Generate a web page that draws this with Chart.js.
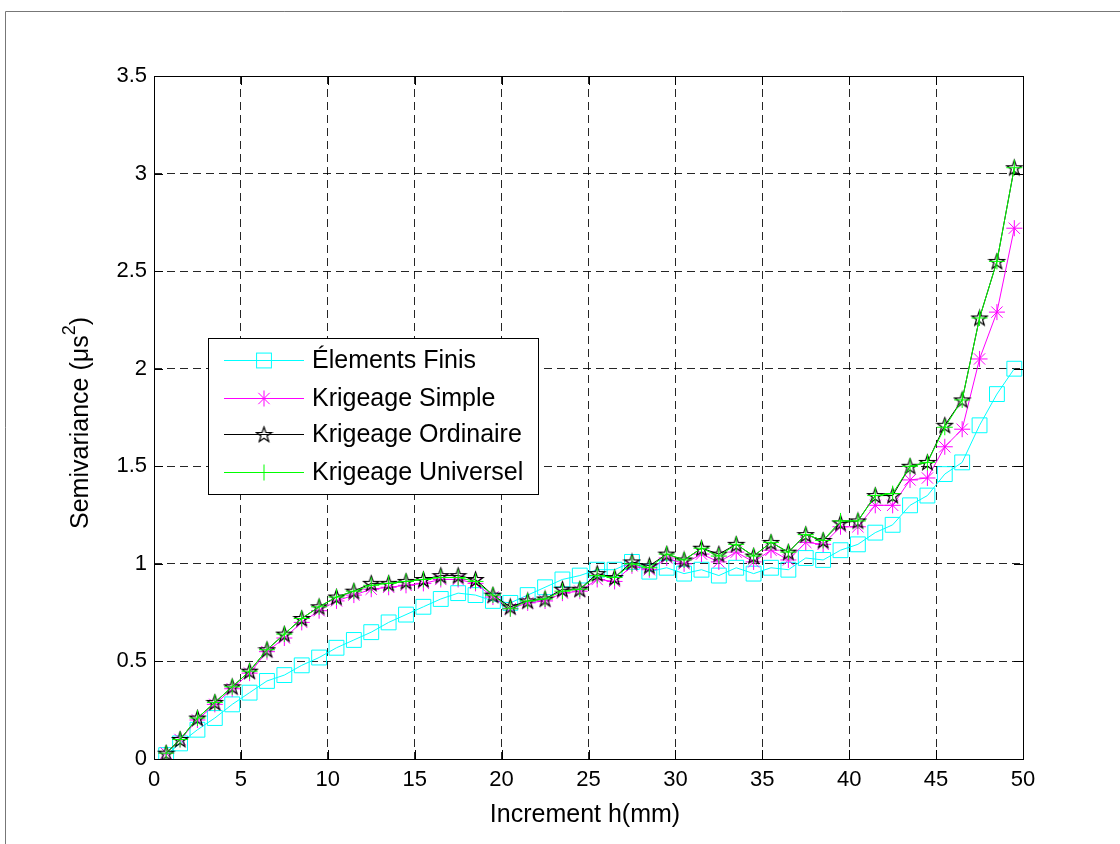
<!DOCTYPE html>
<html lang="fr">
<head>
<meta charset="UTF-8">
<title>Semivariance</title>
<script src="https://cdn.jsdelivr.net/npm/chart.js"></script>
<style>
    body { margin: 0; background: #fff; }
    #wrap { width: 1120px; height: 844px; }
</style>
</head>
<body>
<div id="wrap"><canvas id="semiChart" width="1120" height="844"></canvas></div>
<script>
// increments h (mm)
const hValues = [0.7, 1.5, 2.5, 3.5, 4.5, 5.5, 6.5, 7.5, 8.5, 9.5,
    10.5, 11.5, 12.5, 13.5, 14.5, 15.5, 16.5, 17.5, 18.5, 19.5,
    20.5, 21.5, 22.5, 23.5, 24.5, 25.5, 26.5, 27.5, 28.5, 29.5,
    30.5, 31.5, 32.5, 33.5, 34.5, 35.5, 36.5, 37.5, 38.5, 39.5,
    40.5, 41.5, 42.5, 43.5, 44.5, 45.5, 46.5, 47.5, 48.5, 49.5];

const elementsFinis = [0.02, 0.08, 0.15, 0.21, 0.28, 0.34, 0.40, 0.43, 0.48, 0.52,
    0.57, 0.61, 0.65, 0.70, 0.74, 0.78, 0.82, 0.85, 0.84, 0.81,
    0.80, 0.84, 0.88, 0.92, 0.94, 0.97, 0.97, 1.01, 0.96, 0.98,
    0.95, 0.97, 0.94, 0.98, 0.95, 0.98, 0.97, 1.03, 1.02, 1.07,
    1.10, 1.16, 1.20, 1.30, 1.35, 1.46, 1.52, 1.71, 1.87, 2.00];

const krigeageSimple = [0.03, 0.10, 0.20, 0.28, 0.36, 0.44, 0.55, 0.62, 0.70, 0.76,
    0.81, 0.84, 0.87, 0.88, 0.89, 0.90, 0.92, 0.92, 0.90, 0.83,
    0.77, 0.80, 0.81, 0.85, 0.86, 0.92, 0.91, 0.99, 0.97, 1.03,
    1.00, 1.05, 1.01, 1.06, 1.01, 1.07, 1.02, 1.11, 1.10, 1.19,
    1.19, 1.30, 1.30, 1.43, 1.44, 1.60, 1.69, 2.05, 2.29, 2.72];

const krigeageOrdinaire = [0.03, 0.10, 0.21, 0.29, 0.37, 0.45, 0.56, 0.64, 0.72, 0.78,
    0.83, 0.86, 0.90, 0.90, 0.91, 0.92, 0.94, 0.94, 0.92, 0.84,
    0.78, 0.81, 0.82, 0.87, 0.87, 0.95, 0.93, 1.01, 0.99, 1.05,
    1.02, 1.08, 1.05, 1.10, 1.04, 1.11, 1.06, 1.15, 1.12, 1.21,
    1.22, 1.35, 1.35, 1.50, 1.52, 1.71, 1.84, 2.26, 2.55, 3.03];

const krigeageUniversel = [0.03, 0.10, 0.21, 0.29, 0.37, 0.45, 0.56, 0.64, 0.72, 0.78,
    0.83, 0.86, 0.89, 0.90, 0.91, 0.92, 0.93, 0.93, 0.91, 0.84,
    0.77, 0.81, 0.82, 0.86, 0.87, 0.94, 0.93, 1.00, 0.98, 1.05,
    1.02, 1.08, 1.04, 1.10, 1.04, 1.11, 1.06, 1.15, 1.12, 1.22,
    1.22, 1.35, 1.36, 1.50, 1.52, 1.70, 1.84, 2.26, 2.55, 3.03];

const seriesNames = ['Élements Finis', 'Krigeage Simple', 'Krigeage Ordinaire', 'Krigeage Universel'];
const xTickLabels = ['0', '5', '10', '15', '20', '25', '30', '35', '40', '45', '50'];
const yTickLabels = ['0', '0.5', '1', '1.5', '2', '2.5', '3', '3.5'];
const xTitle = 'Increment h(mm)';
const yTitle = 'Semivariance (μs';

const FONT = '"Liberation Sans", Arial, sans-serif';

// etoile a 5 branches (marqueur pentagram)
function makeStar(size, color) {
    const c = document.createElement('canvas');
    c.width = size; c.height = size;
    const g = c.getContext('2d');
    const cx = size / 2, cy = size / 2 + 0.5;
    const R = size / 2 - 1.5, r = R * 0.4;
    g.beginPath();
    for (let i = 0; i < 10; i++) {
        const rad = i % 2 === 0 ? R : r;
        const a = -Math.PI / 2 + i * Math.PI / 5;
        const px = cx + rad * Math.cos(a), py = cy + rad * Math.sin(a);
        if (i === 0) g.moveTo(px, py); else g.lineTo(px, py);
    }
    g.closePath();
    g.strokeStyle = color;
    g.lineWidth = 1.2;
    g.stroke();
    return c;
}
const starMarker = makeStar(19, '#000');

function toPoints(ys) {
    return ys.map((v, i) => ({ x: hValues[i], y: v }));
}

const styles = [
    { color: '#00FFFF', pointStyle: 'rect', radius: 10.5, order: 3 },
    { color: '#FF00FF', pointStyle: 'star', radius: 8, order: 2 },
    { color: '#000000', pointStyle: starMarker, radius: 8, order: 1 },
    { color: '#00FF00', pointStyle: 'cross', radius: 8, order: 0 }
];
const seriesData = [elementsFinis, krigeageSimple, krigeageOrdinaire, krigeageUniversel];

const datasets = seriesData.map((d, i) => ({
    label: seriesNames[i],
    data: toPoints(d),
    borderColor: styles[i].color,
    backgroundColor: 'transparent',
    borderWidth: 1,
    pointStyle: styles[i].pointStyle,
    pointRadius: styles[i].radius,
    pointBorderColor: styles[i].color,
    pointBackgroundColor: 'transparent',
    pointBorderWidth: 1,
    tension: 0,
    order: styles[i].order
}));

function drawMarker(ctx, st, x, y) {
    ctx.save();
    ctx.strokeStyle = st.color;
    ctx.lineWidth = 1;
    const r = st.radius;
    if (st.pointStyle === 'rect') {
        const s = r * Math.SQRT1_2;
        ctx.strokeRect(x - s, y - s, 2 * s, 2 * s);
    } else if (st.pointStyle === 'cross' || st.pointStyle === 'star') {
        ctx.beginPath();
        ctx.moveTo(x - r, y); ctx.lineTo(x + r, y);
        ctx.moveTo(x, y - r); ctx.lineTo(x, y + r);
        if (st.pointStyle === 'star') {
            const d = r * Math.SQRT1_2;
            ctx.moveTo(x - d, y - d); ctx.lineTo(x + d, y + d);
            ctx.moveTo(x - d, y + d); ctx.lineTo(x + d, y - d);
        }
        ctx.stroke();
    } else {
        ctx.drawImage(st.pointStyle, x - st.pointStyle.width / 2, y - st.pointStyle.height / 2);
    }
    ctx.restore();
}

// cadre, ticks interieurs, titres et legende
const matlabLook = {
    id: 'matlabLook',
    beforeDraw(chart) {
        const ctx = chart.ctx;
        ctx.save();
        ctx.fillStyle = '#fff';
        ctx.fillRect(0, 0, chart.width, chart.height);
        ctx.strokeStyle = '#777';
        ctx.lineWidth = 1;
        ctx.beginPath();
        ctx.moveTo(5.5, chart.height);
        ctx.lineTo(5.5, 11.5);
        ctx.lineTo(chart.width, 11.5);
        ctx.stroke();
        ctx.restore();
    },
    afterDraw(chart) {
        const ctx = chart.ctx;
        const a = chart.chartArea;
        const xs = chart.scales.x, ys = chart.scales.y;
        ctx.save();
        ctx.strokeStyle = '#000';
        ctx.lineWidth = 1;
        ctx.strokeRect(Math.round(a.left) + 0.5, Math.round(a.top) + 0.5,
            Math.round(a.right - a.left), Math.round(a.bottom - a.top));
        ctx.beginPath();
        const tl = 9;
        xs.ticks.forEach(t => {
            const px = Math.round(xs.getPixelForValue(t.value)) + 0.5;
            ctx.moveTo(px, a.bottom); ctx.lineTo(px, a.bottom - tl);
            ctx.moveTo(px, a.top); ctx.lineTo(px, a.top + tl);
        });
        ys.ticks.forEach(t => {
            const py = Math.round(ys.getPixelForValue(t.value)) + 0.5;
            ctx.moveTo(a.left, py); ctx.lineTo(a.left + tl, py);
            ctx.moveTo(a.right, py); ctx.lineTo(a.right - tl, py);
        });
        ctx.stroke();

        // titres des axes
        ctx.fillStyle = '#000';
        ctx.font = '25px ' + FONT;
        ctx.textAlign = 'center';
        ctx.textBaseline = 'middle';
        ctx.fillText(xTitle, 585, 815);

        ctx.save();
        ctx.translate(81, 423);
        ctx.rotate(-Math.PI / 2);
        ctx.textAlign = 'left';
        ctx.font = '25px ' + FONT;
        const w1 = ctx.measureText(yTitle).width;
        ctx.font = '18px ' + FONT;
        const w2 = ctx.measureText('2').width;
        ctx.font = '25px ' + FONT;
        const w3 = ctx.measureText(')').width;
        let x0 = -(w1 + w2 + w3) / 2;
        ctx.fillText(yTitle, x0, 0);
        ctx.font = '18px ' + FONT;
        ctx.fillText('2', x0 + w1, -11);
        ctx.font = '25px ' + FONT;
        ctx.fillText(')', x0 + w1 + w2, 0);
        ctx.restore();

        // legende
        const lx = 208.5, ly = 338.5, lw = 330, lh = 156;
        ctx.fillStyle = '#fff';
        ctx.fillRect(lx, ly, lw, lh);
        ctx.strokeStyle = '#000';
        ctx.strokeRect(lx, ly, lw, lh);
        const rows = [360, 398, 434, 472];
        styles.forEach((st, i) => {
            const y = rows[i] + 0.5;
            ctx.strokeStyle = st.color;
            ctx.beginPath();
            ctx.moveTo(224, y); ctx.lineTo(304, y);
            ctx.stroke();
            drawMarker(ctx, st, 264, y);
            ctx.fillStyle = '#000';
            ctx.font = '25px ' + FONT;
            ctx.textAlign = 'left';
            ctx.textBaseline = 'middle';
            ctx.fillText(seriesNames[i], 312, rows[i] + 1);
        });
        ctx.restore();
    }
};

new Chart(document.getElementById('semiChart').getContext('2d'), {
    type: 'line',
    data: { datasets: datasets },
    options: {
        responsive: false,
        animation: false,
        layout: { padding: { left: 0, top: 76, right: 97, bottom: 0 } },
        plugins: {
            legend: { display: false },
            tooltip: { enabled: false }
        },
        scales: {
            x: {
                type: 'linear',
                min: 0, max: 50,
                afterFit: s => { s.height = 85; },
                afterBuildTicks: s => { s.ticks = xTickLabels.map(v => ({ value: parseFloat(v) })); },
                ticks: {
                    callback: (v, i) => xTickLabels[i],
                    color: '#000',
                    padding: 8,
                    maxRotation: 0,
                    font: { family: FONT, size: 22 }
                },
                grid: { color: 'rgba(0,0,0,0.85)', lineWidth: 1, drawTicks: false },
                border: { display: false, dash: [8, 5] }
            },
            y: {
                type: 'linear',
                min: 0, max: 3.5,
                afterFit: s => { s.width = 154; },
                afterBuildTicks: s => { s.ticks = yTickLabels.map(v => ({ value: parseFloat(v) })); },
                ticks: {
                    callback: (v, i) => yTickLabels[i],
                    color: '#000',
                    padding: 7,
                    font: { family: FONT, size: 22 }
                },
                grid: { color: 'rgba(0,0,0,0.85)', lineWidth: 1, drawTicks: false },
                border: { display: false, dash: [8, 5] }
            }
        }
    },
    plugins: [matlabLook]
});
</script>
</body>
</html>
